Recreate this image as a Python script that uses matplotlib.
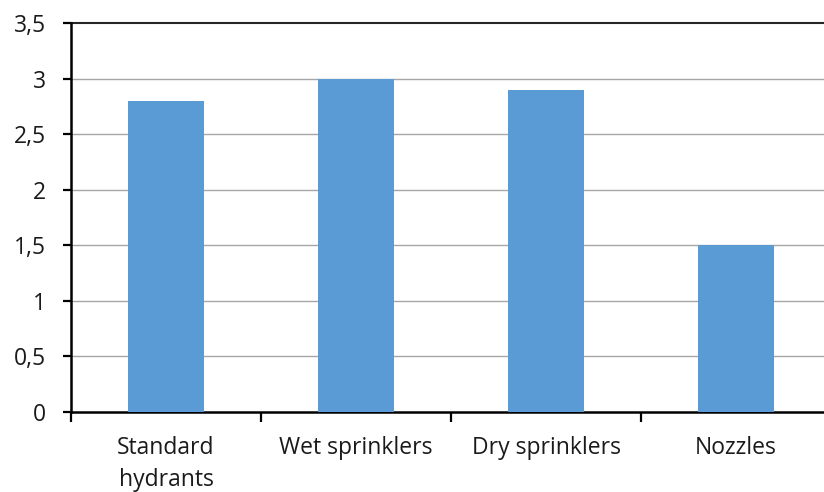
import matplotlib
matplotlib.use("Agg")
import matplotlib.pyplot as plt
from matplotlib.ticker import FuncFormatter, FixedLocator

categories = ["Standard\nhydrants", "Wet sprinklers", "Dry sprinklers", "Nozzles"]
values = [2.8, 3.0, 2.9, 1.5]
y_ticks = [0, 0.5, 1, 1.5, 2, 2.5, 3, 3.5]

plt.rcParams["font.family"] = ["Open Sans", "DejaVu Sans"]

fig = plt.figure(figsize=(8.24, 4.92), dpi=100)
ax = fig.add_axes([71 / 824, 1 - 412 / 492, 760 / 824, 389 / 492])

x = list(range(len(categories)))
ax.bar(x, values, width=0.4, color="#5B9BD5", zorder=3)

ax.set_xlim(-0.5, len(categories) - 0.5)
ax.set_ylim(0, 3.5)

ax.yaxis.set_major_locator(FixedLocator(y_ticks))
ax.yaxis.set_major_formatter(FuncFormatter(lambda v, p: f"{v:g}".replace(".", ",")))
for t in y_ticks[1:-1]:
    ax.axhline(t, color="#A6A6A6", lw=1.0, zorder=1)
ax.axhline(3.5, color="#262626", lw=1.5, zorder=2, clip_on=False)

ax.set_xticks([i - 0.5 for i in range(len(categories) + 1)])
ax.set_xticklabels([])
ax.set_xticks(x, minor=True)
ax.set_xticklabels(categories, minor=True, linespacing=1.45)
ax.tick_params(axis="x", which="minor", length=0, pad=17, labelsize=16.5, labelcolor="#1a1a1a")
ax.tick_params(axis="x", which="major", length=7, width=1.6, direction="out")
ax.tick_params(axis="y", length=6, width=1.6, direction="out", labelsize=16.5, pad=12,
               labelcolor="#1a1a1a")

for s in ["top", "right"]:
    ax.spines[s].set_visible(False)
ax.spines["left"].set_linewidth(1.8)
ax.spines["bottom"].set_linewidth(1.8)

fig.savefig("out.png", dpi=100)
